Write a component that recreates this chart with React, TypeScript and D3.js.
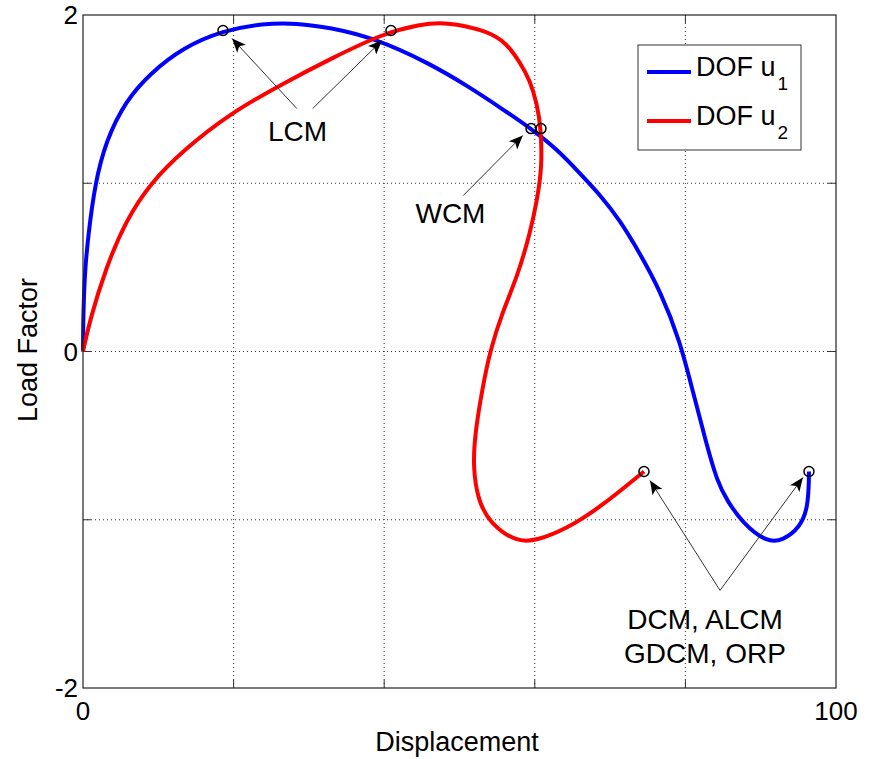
import { useEffect, useRef } from "react";
import * as d3 from "d3";

// blue curve: DOF u1 (displacement, load factor)
const u1Disp = [0, 0, 0.02, 0.1, 0.27, 0.66, 1.59, 3.05, 5.71, 8.9, 13.28, 18.59, 23.9, 28.42, 32.8, 38.5, 46.08, 51.39, 55.5, 59.5, 63, 66.0, 68.7, 71.31, 73.97, 76.63, 79.28, 81.0, 82.8, 84.2, 85.52, 87.65, 90.84, 92.96, 95.22, 96.28, 96.41, 96.41];
const u1Load = [0, 0, 0.15, 0.3, 0.48, 0.678, 0.998, 1.254, 1.492, 1.652, 1.807, 1.908, 1.95, 1.952, 1.925, 1.866, 1.712, 1.569, 1.447, 1.325, 1.2, 1.058, 0.93, 0.779, 0.582, 0.363, 0.065, -0.24, -0.55, -0.77, -0.886, -1.022, -1.135, -1.123, -1.046, -0.927, -0.75, -0.713];

// red curve: DOF u2
const u2Disp = [0, 0, 0.89, 3.05, 5.71, 8.9, 13.28, 19.52, 26.56, 33.2, 39.84, 44.75, 48.07, 53.65, 56.31, 58.03, 59.36, 60.29, 60.82, 60.96, 60.29, 59.36, 57.64, 55.78, 54.05, 52.99, 52.06, 51.79, 52.46, 54.05, 57.64, 60.29, 64.28, 68.66, 74.5, 74.5];
const u2Load = [0, 0, 0.184, 0.499, 0.779, 0.998, 1.195, 1.415, 1.593, 1.747, 1.89, 1.944, 1.96, 1.908, 1.831, 1.718, 1.611, 1.474, 1.325, 1.094, 0.897, 0.701, 0.44, 0.244, 0.006, -0.232, -0.487, -0.689, -0.886, -1.022, -1.135, -1.123, -1.052, -0.927, -0.713, -0.713];

// circled points
const markerDisp = [18.59, 40.9, 59.5, 60.82, 74.5, 96.41];
const markerLoad = [1.908, 1.908, 1.325, 1.325, -0.713, -0.713];

// annotations
const annoText = [
  { lines: ["LCM"], x: 28.5, y: 1.25 },
  { lines: ["WCM"], x: 48.8, y: 0.765 },
  { lines: ["DCM, ALCM", "GDCM, ORP"], x: 82.6, y: -1.65 },
];
const annoArrows = [
  { from: [28.4, 1.444], to: [19.8, 1.86] },
  { from: [30.5, 1.444], to: [39.7, 1.848] },
  { from: [50.5, 0.927], to: [58.4, 1.284] },
  { from: [84.6, -1.42], to: [75.3, -0.767] },
  { from: [84.6, -1.42], to: [95.6, -0.749] },
];

const seriesNames = ["1", "2"];
const seriesColors = ["#0000ff", "#ff0000"];
const xGrid = [20, 40, 60, 80];
const yGrid = [-1, 0, 1];
const xTickLabels = [0, 100];
const yTickLabels = [-2, 0, 2];

const W = 875;
const H = 759;
const FONT = "'Liberation Sans', Arial, Helvetica, sans-serif";

const App = () => {
  const svgRef = useRef<SVGSVGElement | null>(null);

  useEffect(() => {
    document.body.style.margin = "0";
    const svg = d3.select(svgRef.current);
    svg.selectAll("*").remove();

    const x = d3.scaleLinear().domain([0, 100]).range([83, 836]);
    const y = d3.scaleLinear().domain([-2, 2]).range([688, 15]);

    svg.append("rect").attr("width", W).attr("height", H).attr("fill", "#fff");

    // grid
    const grid = svg.append("g").attr("stroke", "#333").attr("stroke-width", 1).attr("stroke-dasharray", "1,3");
    xGrid.forEach((v) => {
      grid.append("line").attr("x1", x(v)).attr("x2", x(v)).attr("y1", y(-2)).attr("y2", y(2));
    });
    yGrid.forEach((v) => {
      grid.append("line").attr("x1", x(0)).attr("x2", x(100)).attr("y1", y(v)).attr("y2", y(v));
    });

    // inner ticks
    const ticks = svg.append("g").attr("stroke", "#333").attr("stroke-width", 1);
    xGrid.forEach((v) => {
      ticks.append("line").attr("x1", x(v)).attr("x2", x(v)).attr("y1", y(-2)).attr("y2", y(-2) - 8);
      ticks.append("line").attr("x1", x(v)).attr("x2", x(v)).attr("y1", y(2)).attr("y2", y(2) + 8);
    });
    yGrid.forEach((v) => {
      ticks.append("line").attr("x1", x(0)).attr("x2", x(0) + 8).attr("y1", y(v)).attr("y2", y(v));
      ticks.append("line").attr("x1", x(100)).attr("x2", x(100) - 8).attr("y1", y(v)).attr("y2", y(v));
    });

    // curves (endpoints doubled so the basis spline reaches them)
    const line = d3
      .line<[number, number]>()
      .x((d) => x(d[0]))
      .y((d) => y(d[1]))
      .curve(d3.curveBasis);
    const series = [
      u1Disp.map((d, i) => [d, u1Load[i]] as [number, number]),
      u2Disp.map((d, i) => [d, u2Load[i]] as [number, number]),
    ];
    series.forEach((pts, i) => {
      svg.append("path").attr("d", line(pts)).attr("fill", "none")
        .attr("stroke", seriesColors[i]).attr("stroke-width", 4)
        .attr("stroke-linejoin", "round");
    });

    // markers
    markerDisp.forEach((d, i) => {
      svg.append("circle").attr("cx", x(d)).attr("cy", y(markerLoad[i])).attr("r", 5)
        .attr("fill", "none").attr("stroke", "#000").attr("stroke-width", 1.5);
    });

    // axes box
    svg.append("rect").attr("x", x(0)).attr("y", y(2)).attr("width", x(100) - x(0))
      .attr("height", y(-2) - y(2)).attr("fill", "none").attr("stroke", "#222").attr("stroke-width", 1.2);

    // arrows
    const ag = svg.append("g");
    annoArrows.forEach((a) => {
      const x1 = x(a.from[0]), y1 = y(a.from[1]), x2 = x(a.to[0]), y2 = y(a.to[1]);
      const ang = Math.atan2(y2 - y1, x2 - x1);
      const len = 15, half = 0.4;
      ag.append("line").attr("x1", x1).attr("y1", y1).attr("x2", x2).attr("y2", y2)
        .attr("stroke", "#333").attr("stroke-width", 1);
      const p1 = [x2 - len * Math.cos(ang - half), y2 - len * Math.sin(ang - half)];
      const p2 = [x2 - len * Math.cos(ang + half), y2 - len * Math.sin(ang + half)];
      const pb = [x2 - len * 0.7 * Math.cos(ang), y2 - len * 0.7 * Math.sin(ang)];
      ag.append("path").attr("d", `M${x2},${y2}L${p1[0]},${p1[1]}L${pb[0]},${pb[1]}L${p2[0]},${p2[1]}Z`)
        .attr("fill", "#000");
    });

    annoText.forEach((t) => {
      t.lines.forEach((ln, j) => {
        svg.append("text").attr("x", x(t.x)).attr("y", y(t.y) + j * 34)
          .attr("text-anchor", "middle").attr("font-family", FONT).attr("font-size", 28)
          .attr("fill", "#000").text(ln);
      });
    });

    // tick labels
    xTickLabels.forEach((v) => {
      svg.append("text").attr("x", x(v)).attr("y", 720).attr("text-anchor", "middle")
        .attr("font-family", FONT).attr("font-size", 26).text(v);
    });
    yTickLabels.forEach((v) => {
      svg.append("text").attr("x", x(0) - 5).attr("y", y(v) + 9).attr("text-anchor", "end")
        .attr("font-family", FONT).attr("font-size", 26).text(v);
    });

    // axis titles
    svg.append("text").attr("x", 457).attr("y", 751).attr("text-anchor", "middle")
      .attr("font-family", FONT).attr("font-size", 27).text("Displacement");
    svg.append("text").attr("transform", "translate(37,350) rotate(-90)").attr("text-anchor", "middle")
      .attr("font-family", FONT).attr("font-size", 27).text("Load Factor");

    // legend
    const lg = svg.append("g");
    lg.append("rect").attr("x", 638).attr("y", 45).attr("width", 163).attr("height", 105)
      .attr("fill", "#fff").attr("stroke", "#333").attr("stroke-width", 1);
    seriesNames.forEach((s, i) => {
      const yy = 72 + i * 49;
      lg.append("line").attr("x1", 647).attr("x2", 691).attr("y1", yy).attr("y2", yy)
        .attr("stroke", seriesColors[i]).attr("stroke-width", 4);
      const tx = lg.append("text").attr("x", 696).attr("y", yy + 4).attr("font-family", FONT)
        .attr("font-size", 27).attr("fill", "#000");
      tx.append("tspan").text("DOF u");
      tx.append("tspan").attr("dy", 14).attr("dx", 2).attr("font-size", 19).text(s);
    });
  }, []);

  return <svg ref={svgRef} width={W} height={H} style={{ display: "block" }} />;
};

export default App;
